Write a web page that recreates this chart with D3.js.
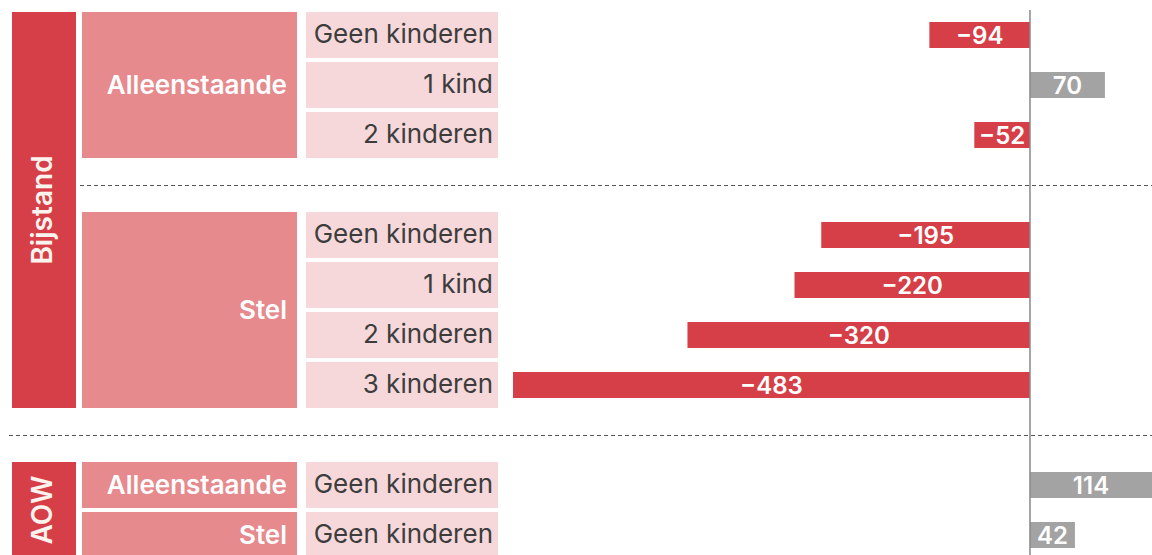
<!DOCTYPE html>
<html>
<head>
<meta charset="utf-8">
<script src="https://cdn.jsdelivr.net/npm/d3@7"></script>
<style>
	body { margin: 0; background: #fff; overflow: hidden; }
	text { font-family: "Inter", "Noto Sans", sans-serif; }
</style>
</head>
<body>
<script>
var regeling = ["Bijstand", "Bijstand", "Bijstand", "Bijstand", "Bijstand", "Bijstand", "Bijstand", "AOW", "AOW"];
var huishouden = ["Alleenstaande", "Alleenstaande", "Alleenstaande", "Stel", "Stel", "Stel", "Stel", "Alleenstaande", "Stel"];
var kinderen = ["Geen kinderen", "1 kind", "2 kinderen", "Geen kinderen", "1 kind", "2 kinderen", "3 kinderen", "Geen kinderen", "Geen kinderen"];
var verschil = [-94, 70, -52, -195, -220, -320, -483, 114, 42];

var w = 1152;
var h = 555;

var red = "#d63f47";
var pink = "#e68a8e";
var lightPink = "#f6d8da";
var grey = "#a3a3a3";

// work out slot per row, with an empty slot between groups
var slot = [];
var gaps = [];
var s = 0;
var groupSize = 0;
for (var i = 0; i < verschil.length; i++) {
	if (i > 0) {
		var changed = regeling[i] != regeling[i - 1] || huishouden[i] != huishouden[i - 1];
		if (changed && (groupSize > 1 || regeling[i] != regeling[i - 1])) {
			gaps.push({slot: s, full: regeling[i] != regeling[i - 1]});
			s++;
			groupSize = 0;
		} else if (changed) {
			groupSize = 0;
		}
	}
	slot.push(s);
	s++;
	groupSize++;
}

var y = d3.scaleBand()
	.domain(d3.range(s))
	.range([10, 560])
	.paddingInner(0.08)
	.paddingOuter(0.04);

var x = d3.scaleLinear()
	.domain([-483, 114])
	.range([513, 1152]);

var svg = d3.select("body")
	.append("svg")
	.attr("width", w)
	.attr("height", h);

// helper to get spans of equal values
function spans(arr, keyFn) {
	var out = [];
	for (var i = 0; i < arr.length; i++) {
		var k = keyFn(i);
		if (out.length && out[out.length - 1].key == k) {
			out[out.length - 1].end = i;
		} else {
			out.push({key: k, label: arr[i], start: i, end: i});
		}
	}
	return out;
}

var regSpans = spans(regeling, function(i) { return regeling[i]; });
var hhSpans = spans(huishouden, function(i) { return regeling[i] + "|" + huishouden[i]; });

// regeling boxes
var reg = svg.selectAll("g.reg")
	.data(regSpans)
	.enter()
	.append("g")
	.attr("class", "reg");

reg.append("rect")
	.attr("x", 12)
	.attr("width", 64)
	.attr("y", function(d) { return y(slot[d.start]); })
	.attr("height", function(d) { return y(slot[d.end]) + y.bandwidth() - y(slot[d.start]); })
	.attr("fill", red);

reg.append("text")
	.attr("transform", function(d) {
		var cy = (y(slot[d.start]) + y(slot[d.end]) + y.bandwidth()) / 2;
		return "translate(42," + cy + ") rotate(-90)";
	})
	.attr("text-anchor", "middle")
	.attr("dy", "0.36em")
	.attr("fill", "#fbf3ee")
	.attr("font-size", 28)
	.attr("font-weight", 600)
	.text(function(d) { return d.label; });

// huishouden boxes
var hh = svg.selectAll("g.hh")
	.data(hhSpans)
	.enter()
	.append("g")
	.attr("class", "hh");

hh.append("rect")
	.attr("x", 82)
	.attr("width", 215)
	.attr("y", function(d) { return y(slot[d.start]); })
	.attr("height", function(d) { return y(slot[d.end]) + y.bandwidth() - y(slot[d.start]); })
	.attr("fill", pink);

hh.append("text")
	.attr("x", 287)
	.attr("y", function(d) { return (y(slot[d.start]) + y(slot[d.end]) + y.bandwidth()) / 2; })
	.attr("text-anchor", "end")
	.attr("dy", "0.34em")
	.attr("fill", "#fff")
	.attr("font-size", 26)
	.attr("font-weight", 600)
	.text(function(d) { return d.label; });

// kinderen label boxes
var rows = svg.selectAll("g.row")
	.data(verschil)
	.enter()
	.append("g")
	.attr("class", "row");

rows.append("rect")
	.attr("x", 306)
	.attr("width", 192)
	.attr("y", function(d, i) { return y(slot[i]); })
	.attr("height", y.bandwidth())
	.attr("fill", lightPink);

rows.append("text")
	.attr("x", 493)
	.attr("y", function(d, i) { return y(slot[i]) + y.bandwidth() / 2; })
	.attr("dy", "0.32em")
	.attr("text-anchor", "end")
	.attr("fill", "#3d3d3d")
	.attr("font-size", 26)
	.text(function(d, i) { return kinderen[i]; });

// dashed separators
svg.selectAll("line.sep")
	.data(gaps)
	.enter()
	.append("line")
	.attr("class", "sep")
	.attr("x1", function(d) { return d.full ? 9 : 80; })
	.attr("x2", w)
	.attr("y1", function(d) { return y(d.slot) + y.bandwidth() / 2 + 0.5; })
	.attr("y2", function(d) { return y(d.slot) + y.bandwidth() / 2 + 0.5; })
	.attr("stroke", "#555")
	.attr("stroke-width", 1.2)
	.attr("stroke-dasharray", "4,3");

// bars
var barH = 26;
rows.append("rect")
	.attr("x", function(d) { return Math.min(x(d), x(0)); })
	.attr("width", function(d) { return Math.abs(x(d) - x(0)); })
	.attr("y", function(d, i) { return y(slot[i]) + (y.bandwidth() - barH) / 2; })
	.attr("height", barH)
	.attr("fill", function(d) { return d < 0 ? red : grey; });

rows.append("text")
	.attr("x", function(d) { return (x(d) + x(0)) / 2; })
	.attr("y", function(d, i) { return y(slot[i]) + y.bandwidth() / 2; })
	.attr("dy", "0.36em")
	.attr("text-anchor", "middle")
	.attr("fill", "#fff")
	.attr("font-size", 24)
	.attr("font-weight", 600)
	.text(function(d) { return d3.format("d")(d); });

// zero line
svg.append("line")
	.attr("x1", x(0))
	.attr("x2", x(0))
	.attr("y1", 10)
	.attr("y2", h)
	.attr("stroke", "#888")
	.attr("stroke-width", 1.5);
</script>
</body>
</html>
